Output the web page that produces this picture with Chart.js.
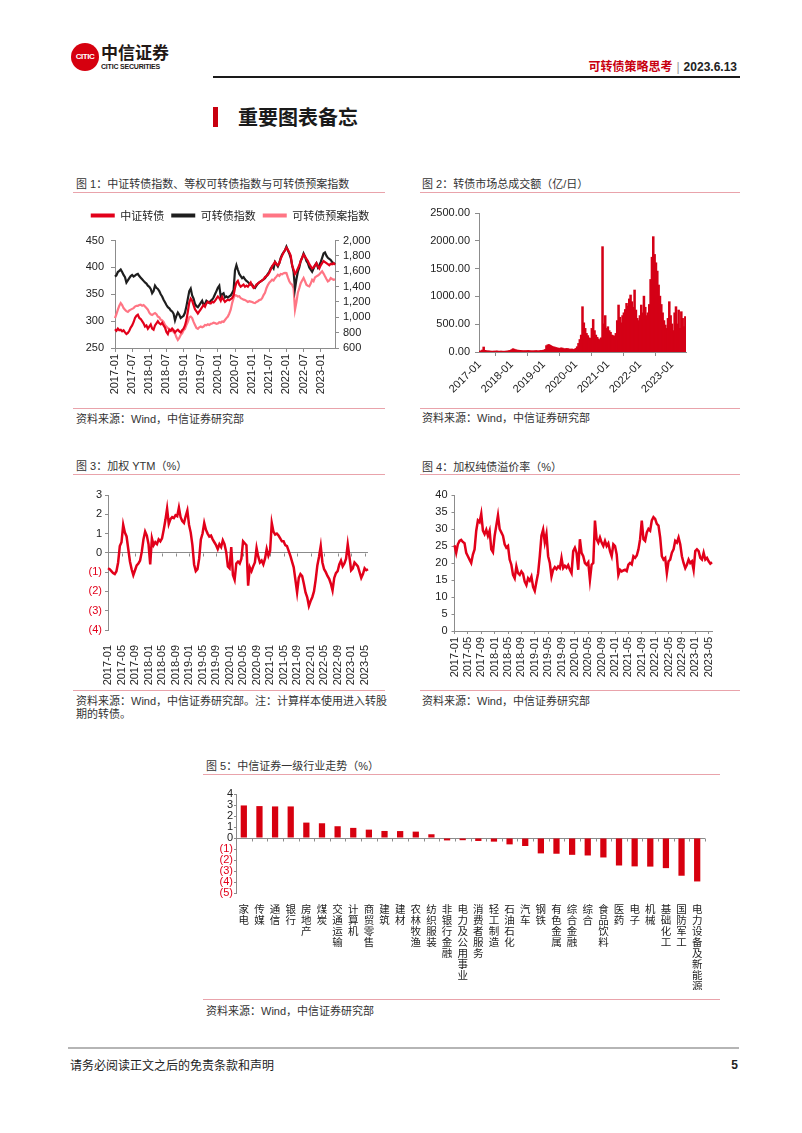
<!DOCTYPE html>
<html>
<head>
<meta charset="utf-8">
<script src="https://cdn.jsdelivr.net/npm/chart.js@4.4.0/dist/chart.umd.min.js"></script>
<style>
  body { margin:0; width:802px; height:1133px; position:relative; background:#fff;
         font-family:"Liberation Sans", Arial, "Noto Sans CJK SC", sans-serif; color:#333; overflow:hidden; }
  .abs { position:absolute; white-space:nowrap; }
  .ttl, .src { position:absolute; font-size:11px; line-height:14px; color:#333; white-space:nowrap; }
  .rule { position:absolute; height:0; border-top:1px solid #e9a3ab; }
  canvas { position:absolute; }
</style>
</head>
<body>

<!-- header -->
<div class="abs" style="left:71px;top:43px;width:28px;height:28px;border-radius:50%;background:#d6000f;color:#fff;font:bold 8px 'Liberation Sans Narrow','Liberation Sans';line-height:28px;text-align:center;letter-spacing:-0.5px">CITIC</div>
<div class="abs" style="left:101px;top:42px;font:bold 17px 'Noto Sans CJK SC';color:#231815;line-height:20px">中信证券</div>
<div class="abs" style="left:101px;top:63px;font:bold 7px 'Liberation Sans';color:#231815;letter-spacing:-0.2px">CITIC SECURITIES</div>
<div class="abs" style="right:65px;top:59px;font:bold 12px 'Liberation Sans','Noto Sans CJK SC';line-height:16px">
  <span style="color:#c8000f">可转债策略思考</span><span style="color:#999;font-weight:normal;margin:0 4px">|</span><span style="color:#222">2023.6.13</span>
</div>
<div class="abs" style="left:213px;top:76px;width:527px;height:2px;background:#1a1a1a"></div>

<div class="abs" style="left:213px;top:107px;width:5px;height:20px;background:#c8000f"></div>
<div class="abs" style="left:238px;top:104px;font:bold 20px 'Noto Sans CJK SC';color:#1a1a1a;line-height:26px">重要图表备忘</div>

<!-- chart 1 -->
<div class="ttl" style="left:76px;top:177px">图 1：中证转债指数、等权可转债指数与可转债预案指数</div>
<div class="rule" style="left:73px;top:192px;width:312px"></div>
<canvas id="c1" width="320" height="197" style="left:70px;top:203px"></canvas>
<div class="rule" style="left:73px;top:408px;width:312px"></div>
<div class="src" style="left:76px;top:412px">资料来源：Wind，中信证券研究部</div>

<!-- chart 2 -->
<div class="ttl" style="left:422px;top:177px">图 2：转债市场总成交额（亿/日）</div>
<div class="rule" style="left:420px;top:192px;width:320px"></div>
<canvas id="c2" width="320" height="205" style="left:410px;top:200px"></canvas>
<div class="rule" style="left:420px;top:408px;width:320px"></div>
<div class="src" style="left:422px;top:411px">资料来源：Wind，中信证券研究部</div>

<!-- chart 3 -->
<div class="ttl" style="left:76px;top:459px">图 3：加权 YTM（%）</div>
<div class="rule" style="left:73px;top:474px;width:312px"></div>
<canvas id="c3" width="320" height="203" style="left:70px;top:482px"></canvas>
<div class="rule" style="left:73px;top:690px;width:312px"></div>
<div class="src" style="left:76px;top:695px;line-height:13px">资料来源：Wind，中信证券研究部。注：计算样本使用进入转股<br>期的转债。</div>

<!-- chart 4 -->
<div class="ttl" style="left:422px;top:460px">图 4：加权纯债溢价率（%）</div>
<div class="rule" style="left:420px;top:474px;width:320px"></div>
<canvas id="c4" width="320" height="203" style="left:410px;top:482px"></canvas>
<div class="rule" style="left:420px;top:690px;width:320px"></div>
<div class="src" style="left:422px;top:694px">资料来源：Wind，中信证券研究部</div>

<!-- chart 5 -->
<div class="ttl" style="left:206px;top:759px">图 5：中信证券一级行业走势（%）</div>
<div class="rule" style="left:203px;top:774px;width:517px"></div>
<canvas id="c5" width="520" height="208" style="left:200px;top:782px"></canvas>
<div class="rule" style="left:203px;top:999px;width:517px"></div>
<div class="src" style="left:206px;top:1004px">资料来源：Wind，中信证券研究部</div>

<!-- footer -->
<div class="abs" style="left:68px;top:1047px;width:671px;height:2px;background:#b5b5b5"></div>
<div class="abs" style="left:70px;top:1057px;font:12px 'Noto Sans CJK SC';color:#222;line-height:16px">请务必阅读正文之后的免责条款和声明</div>
<div class="abs" style="right:64px;top:1057px;font:bold 12px 'Liberation Sans';color:#222;line-height:16px">5</div>

<script>
// ---- data (two readings per month, 2017-01 .. 2023-06) ----
const YEARS = ['2017','2018','2019','2020','2021','2022','2023'];

const T1_TICKS = ['2017-01','2017-07','2018-01','2018-07','2019-01','2019-07','2020-01','2020-07',
                  '2021-01','2021-07','2022-01','2022-07','2023-01'];
const T2_TICKS = ['2017-01','2018-01','2019-01','2020-01','2021-01','2022-01','2023-01'];
const T34_TICKS = ['2017-01','2017-05','2017-09','2018-01','2018-05','2018-09','2019-01','2019-05','2019-09',
                   '2020-01','2020-05','2020-09','2021-01','2021-05','2021-09','2022-01','2022-05','2022-09',
                   '2023-01','2023-05'];

// 中证转债 (left axis)
const CSI_CB = [
  285,282,286,283,284,281,283,279,276,278,282,288,292,298,306,310,312,306,304,300,296,290,292,286,
  290,294,286,284,292,296,300,296,294,297,292,288,280,276,284,282,286,283,279,282,284,281,279,283,
  286,292,302,318,335,342,338,330,322,318,314,318,322,326,330,327,333,336,334,333,336,335,338,342,
  346,343,338,345,340,336,338,340,339,341,343,348,362,372,375,368,364,366,368,364,366,364,368,372,
  366,362,364,368,370,372,374,376,378,382,384,386,390,396,402,406,410,406,404,408,416,422,428,432,
  437,433,428,422,404,396,388,392,398,404,412,418,424,420,416,412,406,402,398,400,404,408,402,398,
  404,408,412,410,408,406,404,407,406,408,405
];
// 可转债指数 (right axis)
const CB_INDEX = [
  1530,1548,1590,1605,1622,1590,1552,1524,1454,1482,1510,1538,1552,1531,1545,1559,1566,1538,1517,1496,1475,1454,1440,1412,
  1398,1370,1314,1342,1412,1384,1370,1342,1300,1272,1230,1195,1160,1132,1118,1090,1076,1048,960,1020,1062,1034,992,1006,
  1020,1062,1146,1244,1342,1375,1286,1244,1174,1146,1132,1160,1188,1216,1160,1174,1216,1202,1188,1216,1230,1258,1300,1342,
  1384,1412,1272,1300,1314,1258,1272,1258,1272,1286,1314,1356,1610,1680,1620,1566,1538,1510,1524,1496,1475,1461,1440,1426,
  1426,1398,1384,1412,1440,1454,1468,1482,1496,1510,1538,1566,1594,1636,1664,1636,1720,1692,1664,1706,1776,1818,1846,1874,
  1920,1874,1832,1776,1678,1594,1370,1496,1594,1650,1734,1776,1832,1790,1734,1706,1650,1622,1594,1636,1678,1706,1650,1678,
  1720,1776,1832,1846,1804,1776,1762,1748,1720,1706,1692
];
// 可转债预案指数 (right axis)
const CB_PLAN = [
  990,1040,1100,1150,1185,1160,1120,1100,1080,1070,1090,1100,1110,1120,1140,1150,1150,1160,1165,1150,1160,1140,1120,1100,
  1060,1040,1030,1045,1055,1040,1010,1000,970,960,940,900,880,860,850,835,830,810,790,740,705,730,770,790,
  830,850,900,940,1000,1010,990,940,900,860,850,870,880,870,880,900,895,910,900,915,920,930,925,915,
  920,935,930,945,940,965,990,1010,1050,1100,1185,1250,1290,1285,1270,1275,1250,1240,1230,1225,1215,1200,1210,1205,
  1200,1190,1185,1200,1210,1225,1230,1250,1290,1320,1380,1420,1450,1470,1490,1480,1510,1530,1555,1540,1565,1560,1575,1580,
  1577,1520,1470,1440,1425,1380,1100,1200,1320,1380,1446,1480,1512,1470,1425,1410,1403,1440,1490,1470,1520,1534,1545,1560,
  1580,1599,1570,1534,1500,1468,1480,1512,1500,1490,1495
];
// 转债市场总成交额（亿/日）
const TURNOVER = [
  10,15,30,85,25,20,15,15,12,10,10,12,12,15,10,10,12,10,8,10,12,15,20,25,
  40,55,45,35,30,28,25,22,20,18,18,20,22,20,18,16,15,18,20,18,16,20,22,25,
  30,40,110,125,130,115,100,90,85,75,70,65,60,70,65,55,50,60,55,50,45,50,40,45,
  60,90,150,220,300,810,520,420,330,290,250,240,420,580,380,300,260,230,210,250,1890,500,650,420,
  450,380,350,300,290,280,330,560,840,620,520,650,700,760,870,820,950,1020,900,800,1110,750,600,560,
  650,840,700,1000,800,650,700,850,1300,1700,2070,1750,1600,1450,1200,1000,850,700,560,480,420,600,900,650,
  500,380,700,810,500,750,420,720,600,450,630
];
// 加权 YTM（%）
const YTM = [
  -0.8,-0.85,-0.95,-1.05,-1.1,-0.95,-0.5,0.35,0.55,1.45,1.05,0.85,0.2,-0.45,-0.85,-1.15,-0.9,-0.65,-0.55,-0.4,0.05,0.7,1.1,0.9,
  0.45,-0.6,0.75,0.4,0.55,0.45,0.7,0.6,0.75,1.2,1.7,2.3,1.5,1.75,1.85,1.8,1.95,1.9,2.35,1.85,1.65,1.55,1.9,2.2,
  1.45,1.05,0.4,-0.6,-0.95,-0.85,-0.3,0.7,1.0,1.55,1.2,1.0,0.85,0.9,0.7,0.55,0.4,0.2,0.45,0.3,0.65,0.45,0.05,-0.7,
  -0.8,0.3,-1.15,-1.4,-0.55,-0.45,-0.55,-0.3,0.6,0.5,0.4,-1.7,-0.75,-0.95,-0.7,-0.5,0.25,-0.2,-0.5,-0.4,-0.6,-0.3,0.2,-0.15,
  0.1,1.55,1.1,0.95,1.0,0.9,0.75,0.6,0.6,0.4,0.35,0.1,-0.15,-0.45,-0.75,-1.4,-2.05,-1.3,-1.1,-1.2,-1.6,-2.05,-2.3,-2.75,
  -2.5,-2.3,-2.0,-1.4,-0.65,-0.2,0.35,-0.5,-0.85,-1.0,-1.2,-1.35,-1.6,-1.95,-1.3,-1.05,-0.95,-0.6,-0.4,-0.7,-0.55,-0.3,0.45,-0.2,
  -0.9,-0.8,-0.5,-0.6,-0.7,-1.0,-1.3,-1.1,-0.8,-0.9,-0.85
];
// 加权纯债溢价率（%）
const PREMIUM = [
  25.2,23.0,25.5,26.5,26.8,26.2,25.8,23.0,22.0,21.0,20.0,22.5,24.0,29.5,32.5,32.0,34.5,29.5,28.5,29.8,28.0,29.5,24.0,23.2,
  28.0,31.0,34.0,30.0,29.0,28.0,25.5,24.5,25.0,21.0,19.5,16.5,15.5,19.0,17.0,16.5,17.5,16.8,14.5,13.5,15.5,14.8,16.0,13.0,
  11.8,14.5,17.0,22.0,28.0,29.8,26.0,28.5,22.0,20.0,16.0,18.0,18.8,18.2,19.0,18.5,21.5,18.5,19.2,18.6,19.4,18.0,17.0,23.5,
  24.5,23.0,18.0,27.0,23.0,22.0,20.0,19.5,20.2,15.0,19.5,20.0,32.5,27.0,26.0,27.5,26.0,25.0,26.5,25.0,25.8,23.5,22.0,25.5,
  25.0,22.5,16.5,18.0,17.5,17.8,18.0,17.6,19.5,20.0,19.6,22.0,21.5,22.2,24.0,27.0,32.5,27.0,26.5,29.0,30.0,29.5,32.5,33.5,
  33.0,31.5,31.0,27.5,22.0,21.0,21.5,17.0,20.5,21.0,23.0,24.0,26.5,26.0,27.5,25.5,22.0,20.0,18.5,19.5,21.0,20.0,20.5,18.0,
  23.5,24.0,23.5,21.5,21.0,23.0,21.0,21.5,20.5,19.8,20.2
];
// 中信证券一级行业走势（%）
const INDUSTRIES = ['家电','传媒','通信','银行','房地产','煤炭','交通运输','计算机','商贸零售','建筑','建材','农林牧渔',
  '纺织服装','非银行金融','电力及公用事业','消费者服务','轻工制造','石油石化','汽车','钢铁','有色金属','综合金融','综合',
  '食品饮料','医药','电子','机械','基础化工','国防军工','电力设备及新能源'];
const IND_RETURN = [2.96,2.9,2.87,2.87,1.4,1.34,1.07,0.92,0.76,0.64,0.63,0.58,0.34,-0.22,-0.2,-0.27,-0.33,-0.58,-0.73,
  -1.4,-1.43,-1.53,-1.59,-1.77,-2.5,-2.58,-2.6,-2.74,-3.43,-3.95];

// half-month categories 2017-01 .. 2023-06
const HALF_MONTHS = [];
YEARS.forEach(y => {
  for (let m = 1; m <= 12; m++) {
    const l = y + '-' + String(m).padStart(2, '0');
    HALF_MONTHS.push(l, l);
  }
});
HALF_MONTHS.length = CSI_CB.length;

// ---- styling ----
const RED = '#e2001a', PINK = '#ff7584', DARK = '#1e1e1e', AXIS = '#8c8c8c', TXT = '#222';
Chart.defaults.font.family = '"Liberation Sans", Arial, "Noto Sans CJK SC", sans-serif';
Chart.defaults.font.size = 11;
Chart.defaults.color = TXT;
Chart.defaults.animation = false;
Chart.defaults.elements.point.radius = 0;
Chart.defaults.elements.line.borderWidth = 2.2;
Chart.defaults.elements.line.tension = 0;
Chart.defaults.plugins.legend.display = false;
Chart.defaults.plugins.tooltip.enabled = false;

const fixW = w => s => { s.width = w; };
const fixH = h => s => { s.height = h; };
const paren = v => v < 0 ? '(' + (-v) + ')' : String(v);
const negRed = c => (c.tick && c.tick.value < 0) ? RED : TXT;
const pick = list => (v, i) => (i % 2 === 0 && list.includes(HALF_MONTHS[i])) ? HALF_MONTHS[i] : null;
const axisGrid = len => ({ drawOnChartArea:false, color:AXIS, tickColor:AXIS, tickLength:len });
const zeroGrid = len => ({ color: c => c.tick && c.tick.value === 0 ? AXIS : 'rgba(0,0,0,0)', tickColor:AXIS, tickLength:len });

// small tick marks along the zero line
const zeroTicks = {
  id: 'zeroTicks',
  beforeDatasetsDraw(chart, args, opts) {
    if (!opts || !opts.at) return;
    const { ctx, scales: { x, y } } = chart;
    const y0 = Math.round(y.getPixelForValue(0)) + 0.5;
    ctx.save();
    ctx.strokeStyle = AXIS; ctx.lineWidth = 1;
    ctx.beginPath();
    opts.at.forEach(v => {
      const px = Math.round(x.getPixelForValue(v)) + 0.5;
      ctx.moveTo(px, y0); ctx.lineTo(px, y0 + 3);
    });
    ctx.stroke();
    ctx.restore();
  }
};

// chart 1
new Chart(document.getElementById('c1'), {
  type: 'line',
  data: { labels: HALF_MONTHS, datasets: [
    { label:'中证转债', data:CSI_CB, borderColor:RED, backgroundColor:RED, yAxisID:'y' },
    { label:'可转债指数', data:CB_INDEX, borderColor:DARK, backgroundColor:DARK, yAxisID:'y1' },
    { label:'可转债预案指数', data:CB_PLAN, borderColor:PINK, backgroundColor:PINK, yAxisID:'y1' }
  ]},
  options: {
    responsive: false,
    plugins: {
      legend: { display:true, labels: {
        usePointStyle:true, pointStyle:'line', pointStyleWidth:24, boxHeight:11, padding:7, color:TXT,
        font:{ size:11, family:'"Noto Sans CJK SC", sans-serif' },
        generateLabels: ch => Chart.defaults.plugins.legend.labels.generateLabels(ch).map(l => Object.assign(l, { lineWidth:4 }))
      }},
      title: { display:true, text:'', weight:500, padding:0, font:{ size:8, lineHeight:1.2 } }
    },
    scales: {
      x: { grid:axisGrid(4), border:{ color:AXIS },
           ticks:{ autoSkip:false, minRotation:90, maxRotation:90, padding:2, callback:pick(T1_TICKS) },
           afterFit:fixH(52) },
      y: { position:'left', min:250, max:450, grid:axisGrid(4), border:{ color:AXIS },
           ticks:{ stepSize:50, padding:7, autoSkip:false }, afterFit:fixW(45) },
      y1: { position:'right', min:600, max:2000, grid:axisGrid(4), border:{ color:AXIS },
            ticks:{ stepSize:200, padding:4, autoSkip:false, callback:v => v.toLocaleString('en-US') }, afterFit:fixW(55) }
    }
  }
});

// chart 2
new Chart(document.getElementById('c2'), {
  type: 'bar',
  data: { labels: HALF_MONTHS, datasets: [
    { data:TURNOVER, backgroundColor:'#d40016', barPercentage:1, categoryPercentage:1, inflateAmount:0.6 }
  ]},
  options: {
    responsive: false,
    layout: { padding:{ top:13, right:44 } },
    scales: {
      x: { grid:axisGrid(4), border:{ color:AXIS },
           ticks:{ autoSkip:false, minRotation:45, maxRotation:45, padding:2, callback:pick(T2_TICKS) },
           afterFit:fixH(53) },
      y: { min:0, max:2500, grid:axisGrid(4), border:{ color:AXIS },
           ticks:{ stepSize:500, padding:5, autoSkip:false, callback:v => v.toFixed(2) }, afterFit:fixW(69) }
    }
  }
});

// chart 3
new Chart(document.getElementById('c3'), {
  type: 'line',
  data: { labels: HALF_MONTHS, datasets: [ { data:YTM, borderColor:RED, borderWidth:2.5 } ] },
  plugins: [zeroTicks],
  options: {
    responsive: false,
    layout: { padding:{ top:13, right:22 } },
    plugins: { zeroTicks: { at: HALF_MONTHS.map((l, i) => i).filter(i => i % 2 === 0 && T34_TICKS.includes(HALF_MONTHS[i])) } },
    scales: {
      x: { grid:{ display:false }, border:{ display:false },
           ticks:{ autoSkip:false, minRotation:90, maxRotation:90, padding:7, callback:pick(T34_TICKS) },
           afterFit:fixH(55) },
      y: { min:-4, max:3, grid:zeroGrid(3), border:{ color:AXIS },
           ticks:{ stepSize:1, padding:3, autoSkip:false, color:negRed, callback:paren }, afterFit:fixW(38) }
    }
  }
});

// chart 4
new Chart(document.getElementById('c4'), {
  type: 'line',
  data: { labels: HALF_MONTHS, datasets: [ { data:PREMIUM, borderColor:RED, borderWidth:2.5 } ] },
  options: {
    responsive: false,
    layout: { padding:{ top:13, right:18 } },
    scales: {
      x: { grid:axisGrid(3), border:{ color:AXIS },
           ticks:{ autoSkip:false, minRotation:90, maxRotation:90, padding:3, callback:pick(T34_TICKS) },
           afterFit:fixH(54) },
      y: { min:0, max:40, grid:axisGrid(3), border:{ color:AXIS },
           ticks:{ stepSize:5, padding:4, autoSkip:false }, afterFit:fixW(44.5) }
    }
  }
});

// chart 5
new Chart(document.getElementById('c5'), {
  type: 'bar',
  data: { labels: INDUSTRIES.map(s => s.split('')), datasets: [
    { data:IND_RETURN, backgroundColor:'#d7000f', barPercentage:0.4, categoryPercentage:1 }
  ]},
  plugins: [zeroTicks],
  options: {
    responsive: false,
    layout: { padding:{ top:12, right:15 } },
    plugins: { zeroTicks: { at: INDUSTRIES.map((s, i) => i - 0.5).concat([INDUSTRIES.length - 0.5]) } },
    scales: {
      x: { grid:{ display:false }, border:{ display:false },
           ticks:{ autoSkip:false, maxRotation:0, minRotation:0, padding:3,
                   font:{ size:10.5, lineHeight:1.04, family:'"Noto Sans CJK SC", sans-serif' } },
           afterFit:fixH(97) },
      y: { min:-5, max:4, grid:zeroGrid(2), border:{ color:AXIS },
           ticks:{ stepSize:1, padding:1, autoSkip:false, color:negRed, callback:paren, font:{ size:11, lineHeight:1 } },
           afterFit:fixW(36) }
    }
  }
});
</script>
</body>
</html>
